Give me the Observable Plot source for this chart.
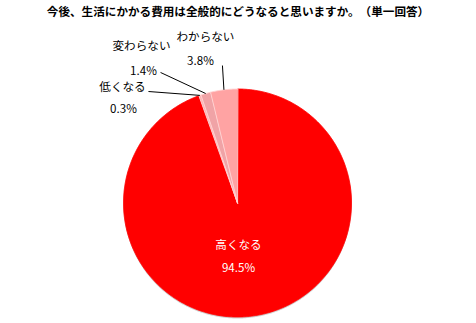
<!DOCTYPE html>
<html lang="ja">
<head>
<meta charset="utf-8">
<script src="https://cdn.jsdelivr.net/npm/d3@7"></script>
<script src="https://cdn.jsdelivr.net/npm/@observablehq/plot@0.6"></script>
<style>
  html, body { margin: 0; padding: 0; background: #fff; }
  #chart { width: 476px; height: 323px; overflow: hidden; }
  .title {
    width: 476px; height: 22px; line-height: 22px; text-align: center;
    font-family: "Noto Sans CJK JP", sans-serif; font-weight: 700; font-size: 11.6px;
    color: #000; white-space: nowrap; text-spacing-trim: space-all;
  }
</style>
</head>
<body>
<div id="chart">
  <div class="title">今後、生活にかかる費用は全般的にどうなると思いますか。（単一回答）</div>
</div>
<script>
// Answers and their shares (%)
const categories = ["高くなる", "低くなる", "変わらない", "わからない"];
const shares = [94.5, 0.3, 1.4, 3.8];
const colors = ["#ff0000", "#ffb4b4", "#f0a3a6", "#ffa3a3"];

// Label placement, in units of the pie radius (y points up)
const namePos = [[0.009, -0.373], [-1.009, 1.013], [-0.842, 1.373], [-0.281, 1.452]];
const valuePos = [[0.009, -0.575], [-1.0, 0.82], [-0.825, 1.154], [-0.325, 1.241]];
// Start of each leader line (the other end sits on the slice's rim)
const leaderFrom = [null, [-0.781, 0.978], [-0.675, 1.145], [-0.132, 1.206]];

const arcs = d3.pie().sort(null).value(d => d)(shares);

// Polygon vertices of each slice: centre, then along the rim
const slices = [];
arcs.forEach((a, i) => {
  const steps = Math.max(2, Math.ceil((a.endAngle - a.startAngle) / (Math.PI / 360)));
  slices.push({name: categories[i], x: 0, y: 0});
  for (let k = 0; k <= steps; k++) {
    const t = a.startAngle + (a.endAngle - a.startAngle) * k / steps;
    slices.push({name: categories[i], x: Math.sin(t), y: Math.cos(t)});
  }
});

const fmt = v => d3.format(".1f")(v) + "%";
const labels = categories.map((c, i) => ({
  name: c, value: fmt(shares[i]),
  nx: namePos[i][0], ny: namePos[i][1],
  vx: valuePos[i][0], vy: valuePos[i][1],
  color: i === 0 ? "#fff" : "#000"
}));

const leaders = [];
arcs.forEach((a, i) => {
  if (!leaderFrom[i]) return;
  const mid = (a.startAngle + a.endAngle) / 2;
  leaders.push({x1: leaderFrom[i][0], y1: leaderFrom[i][1], x2: Math.sin(mid), y2: Math.cos(mid)});
});

const chart = Plot.plot({
  width: 476,
  height: 301,
  marginLeft: 123,
  marginRight: 125,
  marginTop: 66.5,
  marginBottom: 6.5,
  x: {domain: [-1, 1], axis: null},
  y: {domain: [-1, 1], axis: null},
  color: {domain: categories, range: colors},
  style: {fontFamily: "'Noto Sans CJK JP', sans-serif", fontSize: "11.6px", background: "#fff", overflow: "visible"},
  marks: [
    // soft shadow under the rim
    Plot.line(slices, {
      x: "x", y: "y", z: "name", fill: "#000", fillOpacity: 0.18, stroke: "none",
      curve: "linear-closed", dy: 1.5
    }),
    Plot.line(slices, {
      x: "x", y: "y", z: "name", fill: "name", stroke: d => d.name === categories[0] ? "#ff0000" : "#ffd2d2",
      strokeWidth: 0.9, curve: "linear-closed"
    }),
    Plot.link(leaders, {x1: "x1", y1: "y1", x2: "x2", y2: "y2", stroke: "#000", strokeWidth: 1}),
    Plot.text(labels, {x: "nx", y: "ny", text: "name", fill: "color"}),
    Plot.text(labels, {x: "vx", y: "vy", text: "value", fill: "color"})
  ]
});
document.getElementById("chart").appendChild(chart);
</script>
</body>
</html>
